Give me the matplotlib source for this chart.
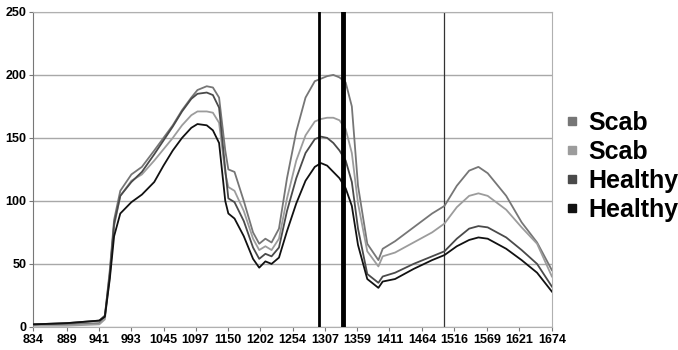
"""Reflectance spectra of scab vs healthy samples (Excel-style line chart)."""

import matplotlib

matplotlib.use("Agg")
import matplotlib.pyplot as plt
from matplotlib.lines import Line2D

plt.rcParams["font.family"] = ["Liberation Sans", "DejaVu Sans"]

wavelengths = [
    834, 889, 941, 950, 958, 965, 975, 993, 1010, 1030, 1045, 1060, 1075, 1090,
    1100, 1115, 1125, 1135, 1145, 1150, 1160, 1175, 1190, 1200, 1210, 1220, 1232,
    1245, 1260, 1275, 1290, 1300, 1310, 1320, 1330, 1340, 1350, 1360, 1375, 1393,
    1400, 1420, 1450, 1480, 1500, 1520, 1540, 1555, 1570, 1600, 1625, 1650, 1674,
]
scab_1 = [
    2, 2, 3, 8, 45, 85, 108, 121, 127, 140, 150, 160, 172, 182,
    188, 191, 190, 182, 140, 125, 123, 100, 75, 66, 70, 67, 78,
    118, 155, 182, 195, 197, 199, 200, 198, 194, 175, 112, 66, 53,
    62, 68, 79, 90, 96, 112, 124, 127, 122, 104, 83, 67, 45,
]
scab_2 = [
    1, 1, 2, 6, 40, 80, 104, 116, 121, 132, 141, 150, 160, 168,
    171, 171, 170, 162, 122, 111, 108, 92, 70, 61, 64, 61, 70,
    102, 132, 152, 163, 165, 166, 166, 164, 157, 138, 98, 60, 48,
    56, 59, 67, 75, 82, 95, 104, 106, 104, 93, 79, 66, 40,
]
healthy_1 = [
    2, 3, 5, 9, 42, 82, 104, 115, 123, 137, 148, 159, 171, 181,
    185, 186, 184, 174, 125, 102, 99, 84, 63, 54, 58, 56, 63,
    92, 118, 138, 149, 151, 150, 146, 140, 132, 115, 78, 42, 35,
    40, 43, 50, 56, 60, 70, 78, 80, 79, 71, 61, 50, 32,
]
healthy_2 = [
    2, 3, 5, 8, 38, 72, 90, 99, 105, 115, 128, 140, 150, 158,
    161, 160, 156, 146, 100, 90, 86, 72, 54, 47, 52, 50, 55,
    76, 98, 116, 127, 130, 128, 123, 118, 110, 96, 65, 38, 31,
    36, 38, 46, 53, 57, 64, 69, 71, 70, 62, 53, 43, 28,
]
series_labels = ["Scab", "Scab", "Healthy", "Healthy"]
tick_labels = [834, 889, 941, 993, 1045, 1097, 1150, 1202, 1254, 1307,
               1359, 1411, 1464, 1516, 1569, 1621, 1674]
marker_lines = [1297, 1335, 1499]

colors = ["#767676", "#9c9c9c", "#4a4a4a", "#111111"]

figure = plt.figure(figsize=(6.78, 3.5), dpi=100)
axis = figure.add_axes([0.049, 0.066, 0.765, 0.9])

for values, color in zip([scab_1, scab_2, healthy_1, healthy_2], colors):
    axis.plot(wavelengths, values, color=color, linewidth=1.3, zorder=3)

# marker bands drawn over the spectra
axis.axvline(marker_lines[0], color="black", linewidth=2.0, zorder=4)
axis.axvline(marker_lines[1], color="black", linewidth=3.5, zorder=4)
axis.axvline(marker_lines[2], color="#333333", linewidth=0.9, zorder=2)

axis.set_xlim(834, 1674)
axis.set_ylim(0, 250)
axis.set_xticks(tick_labels)
axis.set_xticklabels([str(t) for t in tick_labels])
axis.set_yticks(range(0, 251, 50))
axis.yaxis.grid(True, color="#a8a8a8", linewidth=1.0)
axis.set_axisbelow(True)

for label in axis.get_xticklabels() + axis.get_yticklabels():
    label.set_fontweight("bold")
    label.set_fontsize(9)
axis.tick_params(axis="both", length=3, width=0.8, color="#777777", pad=2)

for side in ["top", "right", "bottom"]:
    axis.spines[side].set_color("#b0b0b0")
axis.spines["left"].set_color("#777777")

handles = [Line2D([], [], linestyle="none", marker="s", markersize=6,
                  markerfacecolor=color, markeredgecolor=color) for color in colors]
figure.legend(handles, series_labels, loc="center left", bbox_to_anchor=(0.824, 0.525),
              frameon=False, prop={"weight": "bold", "size": 18},
              handlelength=0.45, handletextpad=0.45, labelspacing=0.2,
              borderaxespad=0, borderpad=0.3)

figure.savefig("out.png", dpi=100)
plt.close(figure)
